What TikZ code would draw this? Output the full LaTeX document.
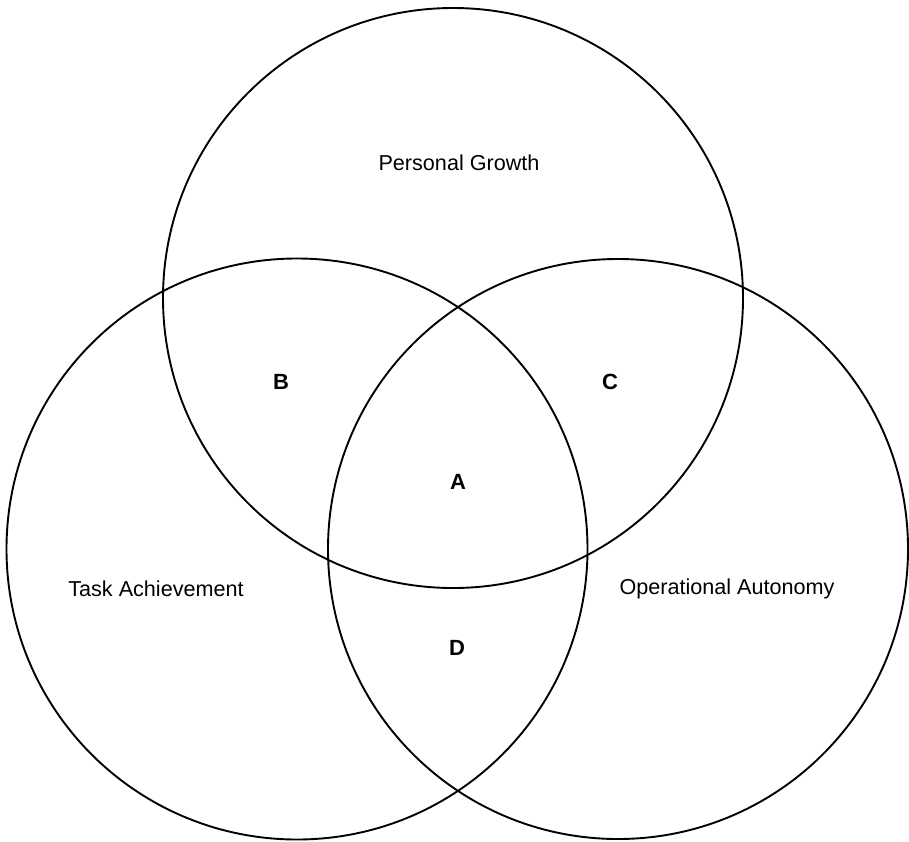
\documentclass[tikz,border=0pt]{standalone}
\usepackage{fontspec}
\setmainfont{Liberation Sans}
\begin{document}
\begin{tikzpicture}[x=1pt,y=-1pt,
  ring/.style={draw=black,line width=1.9pt},
  setlabel/.style={font=\fontsize{21.6}{26}\selectfont,inner sep=0pt},
  zonelabel/.style={font=\fontsize{22}{26}\selectfont\bfseries,inner sep=0pt}]
\useasboundingbox (0,0) rectangle (909,841);
% three overlapping sets
\node[ring,circle,minimum size=580pt,inner sep=0pt] (growth) at (453,298) {};
\node[ring,circle,minimum size=581pt,inner sep=0pt] (task) at (297,549) {};
\node[ring,circle,minimum size=580pt,inner sep=0pt] (autonomy) at (618,549) {};
% set names
\node[setlabel] (lgrowth) at (459,163) {Personal Growth};
\node[setlabel] (ltask) at (156,589) {Task Achievement};
\node[setlabel] (lautonomy) at (727,589) {Operational Autonomy};
% overlap zones
\node[zonelabel] (zA) at (458,482) {A};
\node[zonelabel] (zB) at (281,382) {B};
\node[zonelabel] (zC) at (610,382) {C};
\node[zonelabel] (zD) at (457,648) {D};
\end{tikzpicture}
\end{document}
